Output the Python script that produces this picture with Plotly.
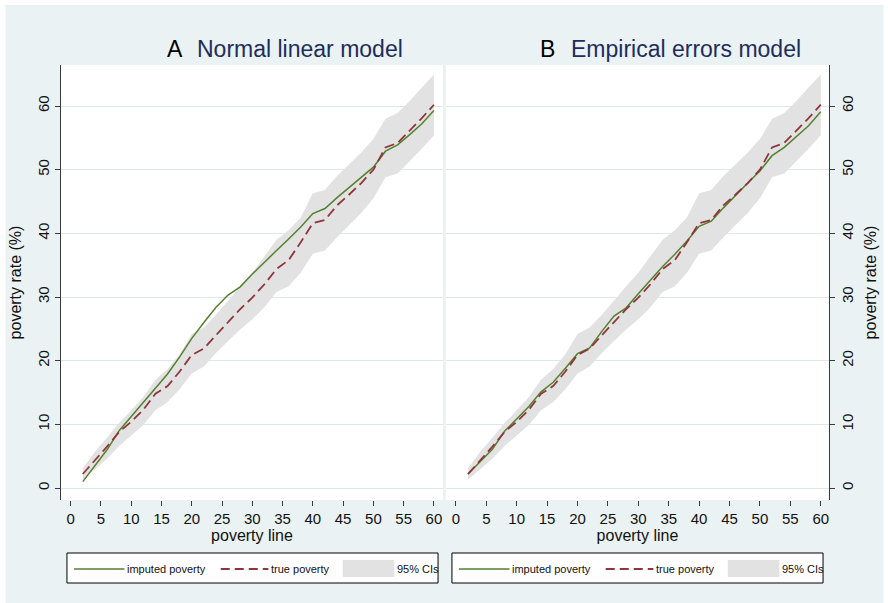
import plotly.graph_objects as go

# ---------------- data ----------------
poverty_line = list(range(2, 62, 2))
true_poverty = [2.2, 4.3, 6.5, 8.8, 10.4, 12.3, 14.8, 16.0, 18.3, 20.9,
                21.9, 24.0, 26.1, 28.1, 29.9, 32.0, 34.4, 35.8, 38.6, 41.6,
                42.1, 44.4, 46.1, 47.9, 50.0, 53.5, 54.2, 56.1, 58.1, 60.2]
imputed_A = [1.0, 3.6, 6.0, 9.0, 11.2, 13.4, 15.6, 17.9, 20.6, 23.5,
             26.0, 28.4, 30.3, 31.6, 33.6, 35.5, 37.3, 39.1, 41.0, 43.1,
             43.9, 45.6, 47.2, 48.7, 50.4, 52.9, 53.9, 55.5, 57.2, 59.3]
imputed_B = [2.2, 4.2, 6.1, 8.9, 10.8, 12.8, 15.1, 16.6, 18.8, 21.1,
             22.0, 24.6, 27.0, 28.3, 30.5, 32.7, 34.8, 36.7, 38.8, 41.1,
             41.9, 44.0, 46.0, 47.9, 49.8, 52.2, 53.5, 55.2, 56.9, 59.1]
ci_lower = [1.3, 3.0, 4.6, 6.6, 8.3, 9.9, 12.2, 13.5, 15.5, 18.0,
            19.1, 21.2, 23.1, 24.9, 26.5, 28.4, 30.8, 31.7, 33.8, 36.8,
            37.3, 39.4, 41.3, 43.2, 45.5, 48.8, 49.4, 51.3, 53.3, 55.4]
ci_upper = [3.1, 5.7, 7.9, 10.2, 12.2, 14.3, 17.0, 18.7, 21.0, 24.2,
            25.2, 27.2, 29.4, 31.7, 33.8, 36.5, 39.0, 40.5, 42.5, 46.3,
            46.8, 49.0, 50.8, 52.7, 54.8, 58.0, 58.9, 60.8, 62.9, 64.9]
x_ticks = list(range(0, 61, 5))
y_ticks = list(range(0, 61, 10))
panel_titles = [("A", "Normal linear model"), ("B", "Empirical errors model")]
legend_labels = ["imputed poverty", "true poverty", "95% CIs"]

# ---------------- style ----------------
W, H = 888, 603
L, R, T, B = 61, 835, 65, 500          # plot block in pixels
BG = "#eaf2f3"
GRID = "#dde8ec"
AX = "#3a3a3a"
GREEN = "#55802e"
RED = "#90353b"
BAND = "#e2e2e2"
NAVY = "#1e2d5c"
FONT = "Liberation Sans, Arial, sans-serif"

def px(x):
    return (x - L) / (R - L)

def py(y):
    return (B - y) / (B - T)

left_dom = [0, px(446)]
right_dom = [px(449), 1]

fig = go.Figure()

for i, (xa, ya, imp) in enumerate([("x", "y", imputed_A), ("x2", "y2", imputed_B)]):
    fig.add_trace(go.Scatter(x=poverty_line, y=ci_lower, mode="lines",
                             line=dict(width=0, color=BAND), xaxis=xa, yaxis=ya,
                             showlegend=False, hoverinfo="skip"))
    fig.add_trace(go.Scatter(x=poverty_line, y=ci_upper, mode="lines",
                             line=dict(width=0, color=BAND), fill="tonexty",
                             fillcolor=BAND, xaxis=xa, yaxis=ya,
                             name=legend_labels[2], showlegend=False))
    fig.add_trace(go.Scatter(x=poverty_line, y=imp, mode="lines",
                             line=dict(width=1.5, color=GREEN), xaxis=xa, yaxis=ya,
                             name=legend_labels[0], showlegend=False))
    fig.add_trace(go.Scatter(x=poverty_line, y=true_poverty, mode="lines",
                             line=dict(width=1.8, color=RED, dash="10px,5px"),
                             xaxis=xa, yaxis=ya,
                             name=legend_labels[1], showlegend=False))

xcommon = dict(tickmode="array", tickvals=x_ticks, ticks="outside", ticklen=5,
               tickcolor=AX, tickwidth=1, showgrid=False, zeroline=False,
               showline=False, tickfont=dict(size=15, color="#111"),
               title=dict(text="poverty line", font=dict(size=16, color="#111"),
                          standoff=2))
ycommon = dict(tickmode="array", tickvals=y_ticks, ticks="outside", ticklen=5,
               tickcolor=AX, tickwidth=1, showgrid=True, gridcolor=GRID,
               gridwidth=1, zeroline=False, showline=True, linecolor=AX,
               linewidth=1, tickangle=-90, tickfont=dict(size=15, color="#111"),
               range=[-1.885, 66.44],
               title=dict(text="poverty rate (%)", font=dict(size=16, color="#111"),
                          standoff=9))

fig.update_layout(
    width=W, height=H,
    margin=dict(l=L, r=W - R, t=T, b=H - B, pad=0),
    paper_bgcolor="white", plot_bgcolor="white",
    font=dict(family=FONT, color="#111"),
    showlegend=False,
    xaxis=dict(domain=left_dom, anchor="y", range=[-1.6, 61.5], **xcommon),
    yaxis=dict(domain=[0, 1], anchor="x", side="left", **ycommon),
    xaxis2=dict(domain=right_dom, anchor="y2", range=[-1.63, 61.36], **xcommon),
    yaxis2=dict(domain=[0, 1], anchor="x2", side="right", **ycommon),
)

shapes = []
# outer background (white strip at top/left like the original)
shapes.append(dict(type="rect", xref="paper", yref="paper", layer="below",
                   x0=px(5), x1=px(W + 2), y0=py(H + 2), y1=py(5),
                   fillcolor=BG, line=dict(width=0)))
# white plot areas
for d in (left_dom, right_dom):
    shapes.append(dict(type="rect", xref="paper", yref="paper", layer="below",
                       x0=d[0], x1=d[1], y0=0, y1=1,
                       fillcolor="white", line=dict(width=0)))

annotations = []
# titles
for (letter, text), lx, tx in zip(panel_titles, (166, 541.5), (196.5, 572.5)):
    annotations.append(dict(xref="paper", yref="paper", x=px(lx), y=py(49),
                            xanchor="left", yanchor="middle", showarrow=False,
                            text=letter, font=dict(size=23, color="black")))
    annotations.append(dict(xref="paper", yref="paper", x=px(tx), y=py(49),
                            xanchor="left", yanchor="middle", showarrow=False,
                            text=text, font=dict(size=23, color=NAVY)))

# legends
for off in (0, 388):
    shapes.append(dict(type="rect", xref="paper", yref="paper",
                       x0=px(67 + off), x1=px(441 + off), y0=py(583), y1=py(553),
                       fillcolor="white", line=dict(color="black", width=1)))
    shapes.append(dict(type="line", xref="paper", yref="paper",
                       x0=px(74 + off), x1=px(125 + off), y0=py(569), y1=py(569),
                       line=dict(color=GREEN, width=1.5)))
    shapes.append(dict(type="line", xref="paper", yref="paper",
                       x0=px(222 + off), x1=px(270 + off), y0=py(569), y1=py(569),
                       line=dict(color=RED, width=1.8, dash="9px,5px")))
    shapes.append(dict(type="rect", xref="paper", yref="paper",
                       x0=px(345 + off), x1=px(397 + off), y0=py(577), y1=py(560),
                       fillcolor=BAND, line=dict(width=0)))
    for lab, tx in zip(legend_labels, (126, 271, 398)):
        annotations.append(dict(xref="paper", yref="paper", x=px(tx + off), y=py(569),
                                xanchor="left", yanchor="middle", showarrow=False,
                                text=lab, font=dict(size=11, color="#111")))

fig.update_layout(shapes=shapes, annotations=annotations)
fig.write_html(
    "out.html",
    config={"displayModeBar": False},
    post_script="document.body.style.margin='0';document.body.style.padding='0';"
                "document.body.style.overflow='hidden';"
                "document.documentElement.style.overflow='hidden';",
)
